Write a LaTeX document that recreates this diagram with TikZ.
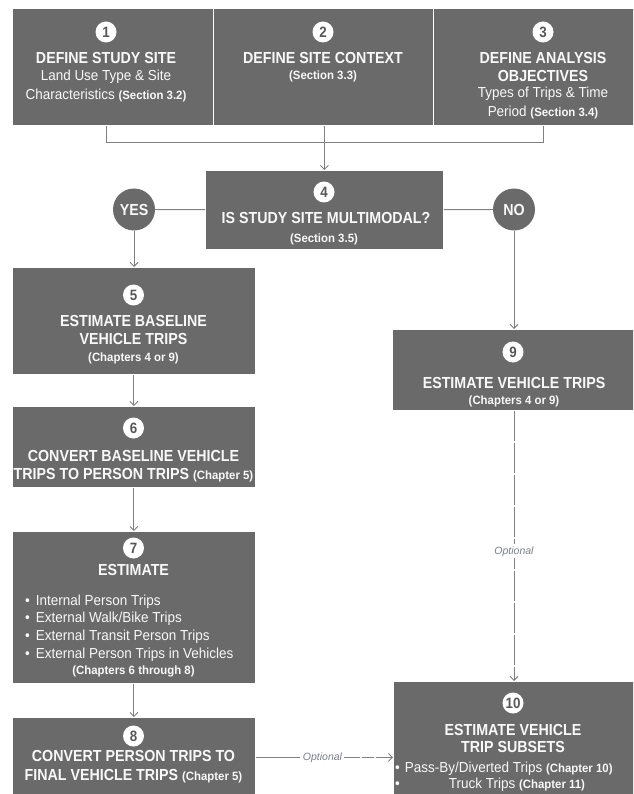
\documentclass[tikz,border=0pt]{standalone}
\usepackage{fontspec}
\setmainfont{Liberation Sans}
\newfontfamily\headfamily[FakeStretch=0.89]{Liberation Sans}
\newfontfamily\bodyfamily[FakeStretch=0.93]{Liberation Sans}
\newfontfamily\reffamily[FakeStretch=0.95]{Liberation Sans}
\usetikzlibrary{arrows.meta}

\definecolor{boxgray}{HTML}{6A6A6A}
\definecolor{linegray}{HTML}{808080}
\definecolor{numgray}{HTML}{575757}
\definecolor{optgray}{HTML}{7A7F8A}
\definecolor{boxtext}{HTML}{F8F8F8}

% font shortcuts
\newcommand\fcTitle{\headfamily\bfseries\fontsize{16}{18}\selectfont}
\newcommand\fcBody{\bodyfamily\fontsize{14.5}{18}\selectfont}
\newcommand\fcRef{\reffamily\bfseries\fontsize{12}{13}\selectfont}
\newcommand\fcNum{\headfamily\bfseries\fontsize{15}{16}\selectfont}
\newcommand\fcOpt{\itshape\fontsize{10.5}{12}\selectfont}
\newcommand\refnote[1]{{\fcRef #1}}

\tikzset{
  stepbox/.style={fill=boxgray, draw=white, line width=0.8pt, inner sep=0pt,
                  anchor=north west, rectangle},
  num/.style={circle, fill=white, inner sep=0pt, minimum size=21pt,
              text=numgray, font=\fcNum},
  ttl/.style={anchor=base, inner sep=0pt, text=boxtext, font=\fcTitle},
  txt/.style={anchor=base, inner sep=0pt, text=boxtext, font=\fcBody},
  reftxt/.style={anchor=base, inner sep=0pt, text=boxtext, font=\fcRef},
  bul/.style={anchor=base west, inner sep=0pt, text=boxtext, font=\fcBody},
  decision/.style={circle, fill=boxgray, minimum size=42pt, inner sep=0pt,
                   text=boxtext, font=\fcTitle},
  conn/.style={draw=linegray, line width=0.9pt},
  arr/.style={conn, -{Straight Barb[length=4pt,width=8pt]}},
  optline/.style={dash pattern=on 30pt off 2pt},
  optlabel/.style={fill=white, inner sep=2pt, text=optgray, font=\fcOpt}
}

\begin{document}
\begin{tikzpicture}[x=1pt,y=-1pt]
\useasboundingbox (0,0) rectangle (633,794);
\clip (0,0) rectangle (633,794);
\fill[white] (0,0) rectangle (633,794);

% ---- boxes
\node[stepbox, minimum width=201pt, minimum height=117pt] (b1) at (12,8) {};
\node[stepbox, minimum width=220pt, minimum height=117pt] (b2) at (213,8) {};
\node[stepbox, minimum width=222pt, minimum height=117pt] (b3) at (433,8) {};
\node[stepbox, minimum width=238pt, minimum height=79pt] (b4) at (205,170) {};
\node[stepbox, minimum width=243pt, minimum height=107pt] (b5) at (12,267) {};
\node[stepbox, minimum width=243pt, minimum height=81pt] (b6) at (12,406) {};
\node[stepbox, minimum width=243pt, minimum height=152pt] (b7) at (12,531) {};
\node[stepbox, minimum width=243pt, minimum height=80pt] (b8) at (12,717) {};
\node[stepbox, minimum width=242pt, minimum height=81pt] (b9) at (392,329) {};
\node[stepbox, minimum width=241pt, minimum height=120pt] (b10) at (393,681) {};

% ---- decision circles
\node[decision] (yes) at (134,209.5) {YES};
\node[decision] (no) at (514,209.5) {NO};

% ---- step 1
\node[num] (n1) at (106,32) {1};
\node[ttl] (t1a) at (106,64) {DEFINE STUDY SITE};
\node[txt] (t1b) at (106,81) {Land Use Type \& Site};
\node[txt] (t1c) at (106,100) {Characteristics \refnote{(Section 3.2)}};
% ---- step 2
\node[num] (n2) at (323,32) {2};
\node[ttl] (t2a) at (323,64) {DEFINE SITE CONTEXT};
\node[reftxt] (t2b) at (323,80) {(Section 3.3)};
% ---- step 3
\node[num] (n3) at (543,32) {3};
\node[ttl] (t3a) at (543,64) {DEFINE ANALYSIS};
\node[ttl] (t3b) at (543,82) {OBJECTIVES};
\node[txt] (t3c) at (543,98) {Types of Trips \& Time};
\node[txt] (t3d) at (543,117) {Period \refnote{(Section 3.4)}};
% ---- step 4
\node[num] (n4) at (324,192) {4};
\node[ttl] (t4a) at (326,223) {IS STUDY SITE MULTIMODAL?};
\node[reftxt] (t4b) at (324,242) {(Section 3.5)};
% ---- step 5
\node[num] (n5) at (133.5,295) {5};
\node[ttl] (t5a) at (133.5,326) {ESTIMATE BASELINE};
\node[ttl] (t5b) at (133.5,344) {VEHICLE TRIPS};
\node[reftxt] (t5c) at (133.5,361) {(Chapters 4 or 9)};
% ---- step 6
\node[num] (n6) at (133.5,428) {6};
\node[ttl] (t6a) at (133.5,461) {CONVERT BASELINE VEHICLE};
\node[ttl] (t6b) at (133.5,479) {TRIPS TO PERSON TRIPS \refnote{(Chapter 5)}};
% ---- step 7
\node[num] (n7) at (133.5,548) {7};
\node[ttl] (t7a) at (133.5,575) {ESTIMATE};
\node[bul] (t7b) at (25,605) {\textbullet\hspace{6pt}Internal Person Trips};
\node[bul] (t7c) at (25,622) {\textbullet\hspace{6pt}External Walk/Bike Trips};
\node[bul] (t7d) at (25,640) {\textbullet\hspace{6pt}External Transit Person Trips};
\node[bul] (t7e) at (25,658) {\textbullet\hspace{6pt}External Person Trips in Vehicles};
\node[reftxt] (t7f) at (133.5,674) {(Chapters 6 through 8)};
% ---- step 8
\node[num] (n8) at (133.5,736) {8};
\node[ttl] (t8a) at (133.5,761) {CONVERT PERSON TRIPS TO};
\node[ttl] (t8b) at (133.5,780) {FINAL VEHICLE TRIPS \refnote{(Chapter 5)}};
% ---- step 9
\node[num] (n9) at (513,352) {9};
\node[ttl] (t9a) at (514,388) {ESTIMATE VEHICLE TRIPS};
\node[reftxt] (t9b) at (514,404) {(Chapters 4 or 9)};
% ---- step 10
\node[num] (n10) at (513,703) {10};
\node[ttl] (t10a) at (513,735) {ESTIMATE VEHICLE};
\node[ttl] (t10b) at (513,752) {TRIP SUBSETS};
\node[bul] (t10c) at (395,772) {\textbullet\hspace{5pt}Pass-By/Diverted Trips \refnote{(Chapter 10)}};
\node[bul] (t10d) at (395,788) {\textbullet};
\node[txt] (t10e) at (517,788) {Truck Trips \refnote{(Chapter 11)}};

% ---- connectors
\coordinate (j1) at (106,142);
\coordinate (j3) at (543,142);
\draw[conn] (b1.south -| j1) -- (j1) -- (j3) -- (b3.south -| j3);
\draw[arr] (b4.north |- b2.south) -- (b4.north);
\draw[conn] (yes) -- (b4);
\draw[conn] (b4) -- (no);
\draw[arr] (yes) -- (yes |- b5.north);
\draw[arr] (no) -- (no |- b9.north);
\draw[arr] (b5) -- (b6);
\draw[arr] (b6) -- (b7);
\draw[arr] (b7) -- (b8);
\draw[arr, optline] (b9.south -| no) -- (b10.north -| no)
  node[optlabel, pos=0.52] (o1) {Optional};
\draw[arr, dash pattern=on 44pt off 2pt on 12pt off 2pt] (b8.east) -- (b8.east -| b10.west)
  node[optlabel, pos=0.486] (o2) {Optional};
\end{tikzpicture}
\end{document}
